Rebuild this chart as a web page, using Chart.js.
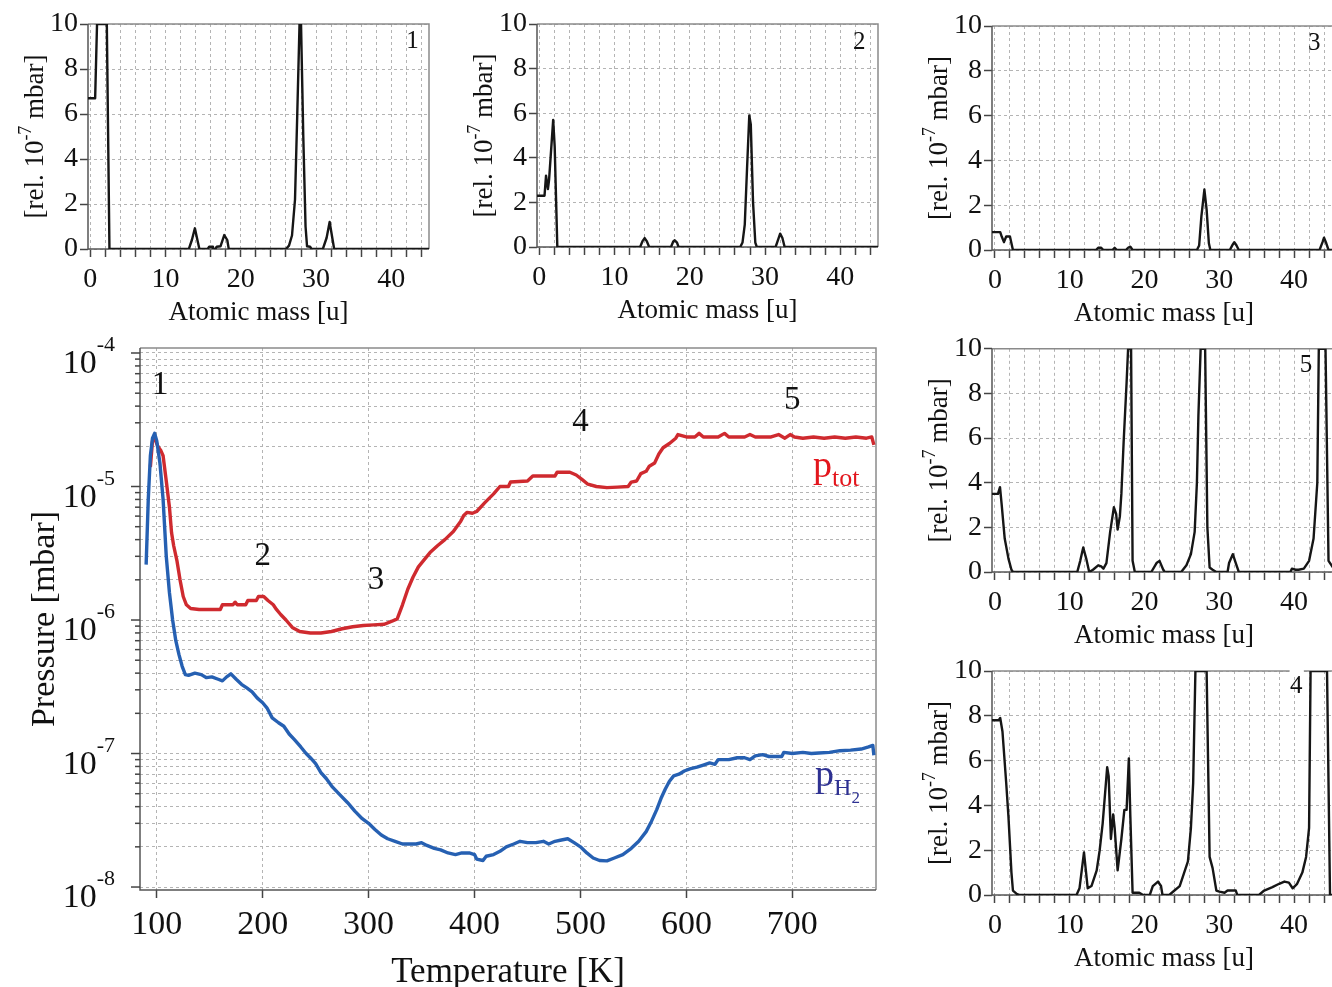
<!DOCTYPE html>
<html>
<head>
<meta charset="utf-8">
<script src="https://cdn.jsdelivr.net/npm/chart.js@4.4.1/dist/chart.umd.min.js"></script>
<style>
  html, body { margin:0; padding:0; background:#fff; width:1332px; height:987px; overflow:hidden; position:relative; }
  canvas { position:absolute; }
</style>
</head>
<body>
<canvas id="c1" width="440" height="330" style="left:0px;top:0px"></canvas>
<canvas id="c2" width="450" height="330" style="left:440px;top:0px"></canvas>
<canvas id="c3" width="440" height="330" style="left:900px;top:0px"></canvas>
<canvas id="c5" width="440" height="320" style="left:900px;top:330px"></canvas>
<canvas id="c4" width="440" height="337" style="left:900px;top:650px"></canvas>
<canvas id="cm" width="900" height="657" style="left:0px;top:330px"></canvas>
<script>
// ================= DATA =================
// Main chart: temperature-programmed desorption
const tempTot = [94,96,98,101,104,106,109,112,114,116,119,122,125,128,132,140,150,160,162,172,174,176,184,186,194,196,201,205,210,213,217,222,228,235,245,255,265,275,285,295,305,315,322,327,332,337,342,347,352,358,365,372,380,387,390,393,398,402,410,418,424,432,434,450,455,476,478,490,496,502,507,515,525,535,545,548,553,557,562,565,570,574,578,584,590,592,600,608,612,616,630,636,640,655,660,665,680,687,693,698,702,710,720,730,740,750,760,770,775,777];
const pTot = [1.4e-5,2.2e-5,2.3e-5,2.0e-5,1.85e-5,1.7e-5,1.1e-5,7e-6,4.5e-6,3.6e-6,2.8e-6,2.0e-6,1.5e-6,1.3e-6,1.22e-6,1.2e-6,1.2e-6,1.2e-6,1.3e-6,1.3e-6,1.36e-6,1.3e-6,1.3e-6,1.4e-6,1.4e-6,1.5e-6,1.5e-6,1.4e-6,1.3e-6,1.2e-6,1.1e-6,1.0e-6,8.8e-7,8.2e-7,8.0e-7,8.0e-7,8.2e-7,8.6e-7,8.9e-7,9.1e-7,9.2e-7,9.3e-7,9.8e-7,1.02e-6,1.3e-6,1.7e-6,2.1e-6,2.5e-6,2.8e-6,3.2e-6,3.6e-6,4.0e-6,4.6e-6,5.5e-6,6.1e-6,6.4e-6,6.3e-6,6.5e-6,7.6e-6,8.8e-6,1.0e-5,1.0e-5,1.08e-5,1.1e-5,1.2e-5,1.2e-5,1.28e-5,1.28e-5,1.22e-5,1.12e-5,1.04e-5,1.0e-5,9.8e-6,9.9e-6,1.0e-5,1.08e-5,1.1e-5,1.25e-5,1.3e-5,1.42e-5,1.5e-5,1.75e-5,1.95e-5,2.1e-5,2.3e-5,2.45e-5,2.35e-5,2.35e-5,2.5e-5,2.35e-5,2.35e-5,2.5e-5,2.35e-5,2.35e-5,2.45e-5,2.35e-5,2.35e-5,2.45e-5,2.3e-5,2.45e-5,2.35e-5,2.3e-5,2.35e-5,2.3e-5,2.35e-5,2.3e-5,2.35e-5,2.3e-5,2.35e-5,2.05e-5];
const tempH2 = [90,92,94,96,98,100,103,106,109,112,115,118,121,124,127,130,136,142,147,152,158,162,166,170,175,180,185,190,195,200,204,209,215,220,225,230,236,241,245,250,255,260,266,273,280,287,294,300,306,312,318,325,332,338,345,350,355,362,368,375,382,388,395,400,402,408,411,418,424,430,437,443,450,458,465,470,476,482,488,494,500,506,512,518,525,532,540,548,555,562,567,572,576,580,584,588,593,598,604,610,616,622,627,630,640,648,655,660,665,672,678,690,692,700,710,718,725,735,745,755,765,772,776,777];
const pH2 = [2.6e-6,8e-6,1.7e-5,2.3e-5,2.5e-5,2.2e-5,1.5e-5,8e-6,3.0e-6,1.6e-6,1.0e-6,7e-7,5.5e-7,4.5e-7,3.9e-7,3.85e-7,4.0e-7,3.9e-7,3.7e-7,3.75e-7,3.6e-7,3.5e-7,3.75e-7,3.95e-7,3.6e-7,3.3e-7,3.1e-7,2.9e-7,2.6e-7,2.4e-7,2.2e-7,1.85e-7,1.7e-7,1.6e-7,1.4e-7,1.27e-7,1.12e-7,1.0e-7,9.3e-8,8.4e-8,7.2e-8,6.5e-8,5.6e-8,4.9e-8,4.3e-8,3.7e-8,3.25e-8,3.0e-8,2.7e-8,2.45e-8,2.3e-8,2.2e-8,2.1e-8,2.1e-8,2.1e-8,2.15e-8,2.05e-8,1.95e-8,1.9e-8,1.8e-8,1.75e-8,1.8e-8,1.8e-8,1.75e-8,1.62e-8,1.58e-8,1.7e-8,1.75e-8,1.85e-8,2.0e-8,2.1e-8,2.2e-8,2.15e-8,2.15e-8,2.2e-8,2.1e-8,2.2e-8,2.25e-8,2.3e-8,2.15e-8,2.0e-8,1.8e-8,1.65e-8,1.58e-8,1.57e-8,1.65e-8,1.75e-8,1.95e-8,2.2e-8,2.6e-8,3.1e-8,3.8e-8,4.6e-8,5.4e-8,6.2e-8,6.8e-8,7.0e-8,7.4e-8,7.7e-8,7.9e-8,8.2e-8,8.5e-8,8.3e-8,9.0e-8,9.0e-8,9.3e-8,9.3e-8,9.0e-8,9.6e-8,9.8e-8,9.5e-8,9.5e-8,1.02e-7,1.0e-7,1.02e-7,1.0e-7,1.01e-7,1.02e-7,1.05e-7,1.06e-7,1.08e-7,1.12e-7,1.15e-7,9.7e-8];
const tempTicks = [100,200,300,400,500,600,700];
const pressureDecades = [-8,-7,-6,-5,-4];
const stageLabels = ['1','2','3','4','5'];
const stageTemp = [103,200,307,500,700];
const stagePress = [5.96e-5,3.1e-6,2.07e-6,3.16e-5,4.6e-5];

// Mass spectra (atomic mass [u], relative pressure [1e-7 mbar])
const massTicks = [0,2,4,6,8,10,12,14,16,18,20,22,24,26,28,30,32,34,36,38,40,42,44];
const massLabelTicks = [0,10,20,30,40];
const intensityTicks = [0,2,4,6,8,10];

const mass1 = [-0.3,0.65,0.9,2.2,2.55,13.1,13.5,13.9,14.3,14.5,15.6,15.8,16.2,16.3,16.6,16.8,17.3,17.8,18.2,18.4,26.0,26.4,26.8,27.2,27.5,27.8,28.0,28.3,28.6,28.8,29.2,29.4,30.9,31.4,31.8,32.2,32.4,45.0];
const int1  = [6.7,6.7,10,10,0,0,0.4,0.92,0.3,0,0,0.1,0.1,0,0,0.1,0.12,0.62,0.4,0,0,0.15,0.6,2.2,6,10,10,5,1,0.12,0.1,0,0,0.5,1.2,0.4,0,0];

const mass2 = [-0.3,0.7,0.9,1.15,1.3,1.85,2.05,2.4,13.4,13.7,14.0,14.3,14.6,17.5,17.8,18.0,18.3,18.5,26.7,27.0,27.3,27.6,27.9,28.1,28.4,28.7,28.9,31.4,31.8,32.0,32.3,32.6,45.0];
const int2  = [2.3,2.3,3.2,2.6,3.0,5.7,4.5,0,0,0.25,0.4,0.25,0,0,0.25,0.3,0.2,0,0,0.2,1.0,3.5,5.9,5.5,2.0,0.2,0,0,0.4,0.6,0.4,0,0];

const mass3 = [-0.4,0.7,0.9,1.2,1.5,2.0,2.4,13.5,13.8,14.2,14.5,15.7,16.0,16.3,17.5,17.8,18.1,18.4,27.0,27.3,27.6,28.0,28.3,28.6,28.8,31.4,31.8,32.0,32.3,32.6,43.4,43.8,44.0,44.3,44.6,45.6];
const int3  = [0.8,0.8,0.6,0.35,0.6,0.6,0,0,0.1,0.1,0,0,0.1,0,0,0.1,0.15,0,0,0.2,1.5,2.7,1.8,0.3,0,0,0.25,0.35,0.2,0,0,0.35,0.55,0.3,0,0];

const mass5 = [-0.4,0.4,0.67,0.9,1.3,1.8,2.2,2.4,11.0,11.4,11.8,12.2,12.6,13.1,13.8,14.2,14.5,14.9,15.4,15.9,16.2,16.4,16.7,16.9,17.2,17.6,17.8,18.2,18.4,18.7,20.9,21.6,22.0,22.5,22.7,24.9,25.6,26.2,26.7,27.0,27.2,27.5,28.1,28.4,28.7,29.1,29.6,31.1,31.3,31.8,32.2,32.6,39.5,39.7,40.2,40.6,41.3,42.0,42.6,43.1,43.3,44.2,44.6,45.6];
const int5  = [3.5,3.5,3.8,3.0,1.5,0.6,0.1,0,0,0.5,1.1,0.6,0,0.1,0.3,0.25,0.15,0.4,1.8,2.9,2.6,1.9,2.5,3.5,5.8,8.5,10,10,0.5,0,0,0.4,0.5,0.1,0,0,0.3,0.8,1.8,4,7,10,10,2,0.2,0.1,0,0,0.4,0.8,0.4,0,0,0.15,0.1,0.1,0.15,0.5,1.5,4,10,10,0.5,0];

const mass4 = [-0.4,0.5,0.7,1.0,1.5,1.8,2.2,2.4,2.9,3.3,10.9,11.3,11.9,12.4,12.9,13.6,14.0,14.4,15.0,15.2,15.5,15.8,16.0,16.4,16.9,17.3,17.6,17.9,18.1,18.4,19.3,19.8,20.7,21.1,21.8,22.2,22.4,23.3,24.0,24.7,25.3,25.8,26.2,26.5,26.8,28.3,28.7,29.1,29.6,30.0,30.7,31.1,32.2,32.4,35.3,36.0,37.1,38.0,38.7,39.3,39.8,40.4,41.1,41.6,42.0,42.2,44.4,44.8,45.6];
const int4  = [7.8,7.8,7.9,7.3,5,3.5,1,0.2,0.05,0,0,0.3,1.9,0.3,0.4,1.1,2,3.2,5.7,5.3,2.5,3.6,3.0,1.1,2.5,3.8,3.8,6.1,3.5,0.1,0.1,0,0,0.4,0.6,0.4,0,0,0.2,0.4,1.0,1.5,3.0,5,10,10,1.7,1.2,0.2,0.15,0.1,0.2,0.2,0,0,0.2,0.35,0.5,0.6,0.55,0.3,0.5,1.0,1.7,3,10,10,0,0];

// ================= RENDERING =================
const FAM = '"Liberation Serif", "Times New Roman", serif';
const GRID = '#b4b4b4';
const TICKC = '#444';

function drawParts(ctx, x, y, parts, rot, align) {
  ctx.save();
  ctx.translate(x, y);
  if (rot) ctx.rotate(rot);
  ctx.textAlign = 'left';
  ctx.textBaseline = 'alphabetic';
  const ws = parts.map(p => { ctx.font = p.size + 'px ' + FAM; return ctx.measureText(p.t).width; });
  const total = ws.reduce((a, b) => a + b, 0);
  let cx = align === 'center' ? -total / 2 : (align === 'right' ? -total : 0);
  parts.forEach((p, i) => {
    ctx.font = p.size + 'px ' + FAM;
    ctx.fillStyle = p.color || '#111';
    ctx.fillText(p.t, cx, p.dy || 0);
    cx += ws[i];
  });
  ctx.restore();
}

const decoCfg = {};

const decoPlugin = {
  id: 'deco',
  beforeDatasetsDraw(chart) {
    const { ctx, chartArea: a } = chart;
    ctx.save();
    ctx.lineWidth = 1.5;
    ctx.strokeStyle = '#8a8a8a';
    ctx.beginPath();
    ctx.moveTo(a.left, a.top); ctx.lineTo(a.right, a.top); ctx.lineTo(a.right, a.bottom);
    ctx.stroke();
    ctx.strokeStyle = '#555';
    ctx.beginPath();
    ctx.moveTo(a.left, a.top); ctx.lineTo(a.left, a.bottom); ctx.lineTo(a.right, a.bottom);
    ctx.stroke();
    ctx.restore();
  },
  afterDraw(chart) {
    const cfg = decoCfg[chart.canvas.id];
    if (!cfg) return;
    const { ctx, chartArea: a } = chart;
    const xs = chart.scales.x, ys = chart.scales.y;
    if (cfg.gap) {
      ctx.save(); ctx.fillStyle = '#fff';
      ctx.fillRect(xs.getPixelForValue(cfg.gap[0]), a.top - 3, xs.getPixelForValue(cfg.gap[1]) - xs.getPixelForValue(cfg.gap[0]), 6);
      ctx.restore();
    }
    // axis titles
    drawParts(ctx, a.left - cfg.yTitleOff, (a.top + a.bottom) / 2, cfg.yTitle, -Math.PI / 2, 'center');
    drawParts(ctx, (a.left + a.right) / 2, a.bottom + cfg.xTitleOff, cfg.xTitle, 0, 'center');
    // labels placed in data coordinates
    (cfg.labels || []).forEach(L => {
      drawParts(ctx, xs.getPixelForValue(L.x), ys.getPixelForValue(L.y), L.parts, 0, L.align || 'center');
    });
    // logarithmic axis: tick marks and 10^n labels
    if (cfg.log) {
      ctx.save();
      ctx.strokeStyle = TICKC; ctx.lineWidth = 1.5;
      ys.ticks.forEach(t => {
        const y = ys.getPixelForValue(t.value);
        const m = Math.round(t.value / Math.pow(10, Math.floor(Math.log10(t.value) + 1e-9)));
        const len = m === 1 ? 9 : 5;
        ctx.beginPath(); ctx.moveTo(a.left - len, y); ctx.lineTo(a.left, y); ctx.stroke();
      });
      ctx.restore();
      pressureDecades.forEach(e => {
        const y = ys.getPixelForValue(Math.pow(10, e));
        drawParts(ctx, a.left - 25, y + 20, [{ t: '10', size: 34 }, { t: String(e), size: 22, dy: -22 }], 0, 'right');
      });
    }
  }
};

const yTitleSpec = [{ t: '[rel. 10', size: 27 }, { t: '-7', size: 18, dy: -12 }, { t: ' mbar]', size: 27 }];
const xTitleSpec = [{ t: 'Atomic mass [u]', size: 27 }];

function spectrum(id, masses, values, g) {
  decoCfg[id] = {
    yTitleOff: 45, xTitleOff: 71, yTitle: yTitleSpec, xTitle: xTitleSpec,
    labels: [{ x: g.num[0], y: g.num[1], parts: [{ t: g.num[2], size: 25, dy: 8 }] }],
    gap: g.gap
  };
  return new Chart(document.getElementById(id), {
    type: 'line',
    data: {
      datasets: [{
        data: masses.map((m, i) => ({ x: m, y: values[i] })),
        borderColor: '#161616', borderWidth: 2.4, pointRadius: 0, tension: 0,
        borderJoinStyle: 'round', fill: false
      }]
    },
    options: {
      responsive: false, animation: false, devicePixelRatio: 1,
      layout: { padding: { top: g.padTop, right: g.padRight, left: 0, bottom: 0 } },
      plugins: { legend: { display: false }, tooltip: { enabled: false } },
      scales: {
        x: {
          type: 'linear', min: g.xmin, max: g.xmax,
          afterBuildTicks: s => { s.ticks = massTicks.map(v => ({ value: v })); },
          afterFit: s => { s.height = g.xH; },
          ticks: {
            autoSkip: false, maxRotation: 0, minRotation: 0, padding: 6, color: '#111',
            font: { family: FAM, size: 28 },
            callback: v => massLabelTicks.includes(v) ? String(v) : ''
          },
          grid: { color: GRID, lineWidth: 1, tickLength: 8, tickColor: TICKC, tickWidth: 1.5 },
          border: { display: false, dash: [3, 3] }
        },
        y: {
          type: 'linear', min: 0, max: 10,
          afterBuildTicks: s => { s.ticks = intensityTicks.map(v => ({ value: v })); },
          afterFit: s => { s.width = g.yW; },
          ticks: { padding: 2, color: '#111', font: { family: FAM, size: 28 } },
          grid: { color: GRID, lineWidth: 1, tickLength: 8, tickColor: TICKC, tickWidth: 1.5 },
          border: { display: false, dash: [3, 3] }
        }
      }
    },
    plugins: [decoPlugin]
  });
}

spectrum('c1', mass1, int1, { padTop: 24, padRight: 11, yW: 88, xH: 81, xmin: -0.3, xmax: 45, num: [42.8, 9.3, '1'] });
spectrum('c2', mass2, int2, { padTop: 24, padRight: 12, yW: 97, xH: 83, xmin: -0.3, xmax: 45, num: [42.5, 9.25, '2'] });
spectrum('c3', mass3, int3, { padTop: 26, padRight: 4, yW: 92, xH: 80, xmin: -0.4, xmax: 45.6, num: [42.7, 9.3, '3'] });
spectrum('c5', mass5, int5, { padTop: 18, padRight: 4, yW: 92, xH: 78, xmin: -0.4, xmax: 45.6, num: [41.6, 9.33, '5'] });
spectrum('c4', mass4, int4, { padTop: 21, padRight: 4, yW: 92, xH: 92, xmin: -0.4, xmax: 45.6, num: [40.3, 9.37, '4'], gap: [39.4, 41.3] });

// Main chart
const logTicks = [];
pressureDecades.forEach((e, i) => {
  if (i === pressureDecades.length - 1) { logTicks.push(Math.pow(10, e)); return; }
  for (let m = 1; m <= 9; m++) logTicks.push(m * Math.pow(10, e));
});

decoCfg['cm'] = {
  yTitleOff: 86, xTitleOff: 92, log: true,
  yTitle: [{ t: 'Pressure [mbar]', size: 34 }],
  xTitle: [{ t: 'Temperature [K]', size: 35 }],
  labels: stageLabels.map((s, i) => ({ x: stageTemp[i], y: stagePress[i], parts: [{ t: s, size: 33, dy: 11 }] })).concat([
    { x: 719.6, y: 1.18e-5, align: 'left', parts: [{ t: 'p', size: 38, color: '#e3161d' }, { t: 'tot', size: 26, dy: 9, color: '#e3161d' }] },
    { x: 721.5, y: 5.7e-8, align: 'left', parts: [{ t: 'p', size: 38, color: '#2e3192' }, { t: 'H', size: 24, dy: 9, color: '#2e3192' }, { t: '2', size: 17, dy: 17, color: '#2e3192' }] }
  ])
};

new Chart(document.getElementById('cm'), {
  type: 'line',
  data: {
    datasets: [
      { label: 'pH2', data: tempH2.map((t, i) => ({ x: t, y: pH2[i] })), borderColor: '#2660b2', borderWidth: 3.4, pointRadius: 0, tension: 0, borderJoinStyle: 'round', fill: false },
      { label: 'ptot', data: tempTot.map((t, i) => ({ x: t, y: pTot[i] })), borderColor: '#cf2a2f', borderWidth: 3.4, pointRadius: 0, tension: 0, borderJoinStyle: 'round', fill: false }
    ]
  },
  options: {
    responsive: false, animation: false, devicePixelRatio: 1,
    layout: { padding: { top: 18, right: 24, left: 0, bottom: 0 } },
    plugins: { legend: { display: false }, tooltip: { enabled: false } },
    scales: {
      x: {
        type: 'linear', min: 84.2, max: 779,
        afterBuildTicks: s => { s.ticks = tempTicks.map(v => ({ value: v })); },
        afterFit: s => { s.height = 97; },
        ticks: { autoSkip: false, maxRotation: 0, minRotation: 0, padding: 7, color: '#111', font: { family: FAM, size: 34 } },
        grid: { color: GRID, lineWidth: 1, tickLength: 8, tickColor: TICKC, tickWidth: 1.5 },
        border: { display: false, dash: [3, 3] }
      },
      y: {
        type: 'logarithmic', min: 0.95e-8, max: 1.09e-4,
        afterBuildTicks: s => { s.ticks = logTicks.map(v => ({ value: v })); },
        afterFit: s => { s.width = 140; },
        ticks: { display: false },
        grid: { color: GRID, lineWidth: 1, drawTicks: false },
        border: { display: false, dash: [3, 3] }
      }
    }
  },
  plugins: [decoPlugin]
});
</script>
</body>
</html>
